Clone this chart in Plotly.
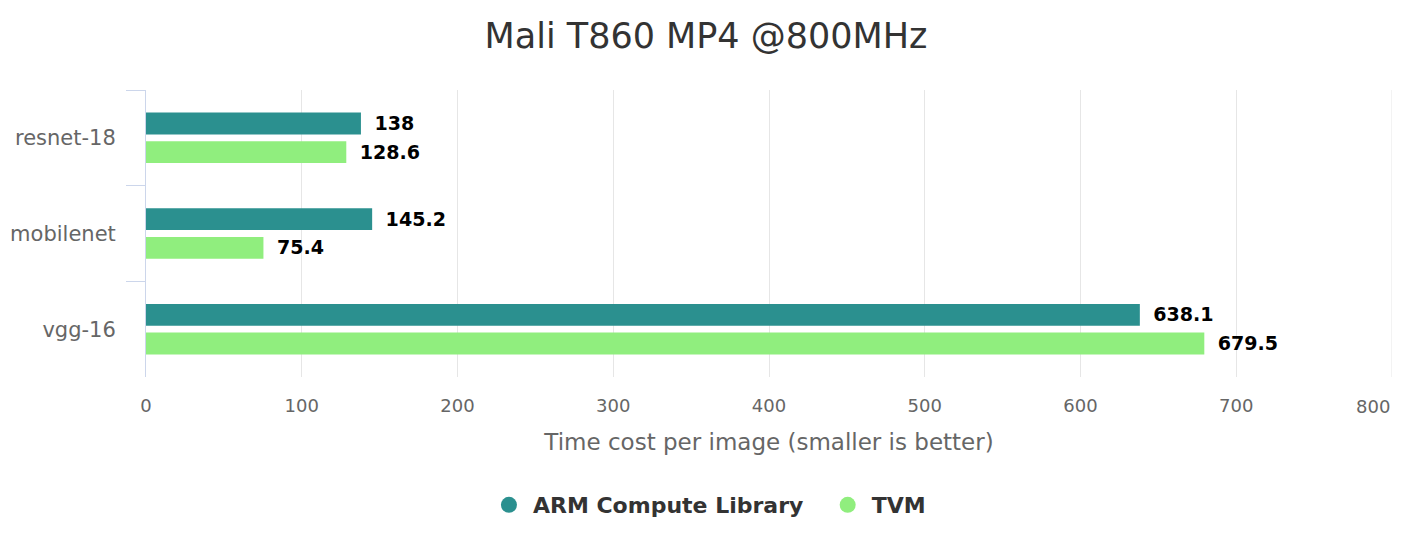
import plotly.graph_objects as go

categories = ["resnet-18", "mobilenet", "vgg-16"]
arm_values = [138, 145.2, 638.1]
tvm_values = [128.6, 75.4, 679.5]
series_names = ["ARM Compute Library", "TVM"]
colors = ["#2b908f", "#90ee7e"]
x_ticks = [0, 100, 200, 300, 400, 500, 600, 700, 800]

FONT = "DejaVu Sans"
TICK_FONT = dict(family=FONT, size=18, color="#666666")

fig = go.Figure()
for i, (name, vals, col) in enumerate(zip(series_names, [arm_values, tvm_values], colors)):
    fig.add_trace(go.Bar(
        y=categories, x=vals, orientation="h", name=name,
        marker=dict(color=col, line=dict(width=0)),
        text=["\u00a0\u2009" + (f"{v:g}") for v in vals],
        textposition="outside", cliponaxis=False,
        textfont=dict(family=FONT, size=21, color="#000000", weight="bold"),
        showlegend=False, hoverinfo="x+name",
    ))
    # legend entry with circle symbol
    legend_label = name + ("\u00a0\u00a0" if i < len(series_names) - 1 else "")
    fig.add_trace(go.Scatter(
        x=[None], y=[None], mode="markers", name=legend_label,
        marker=dict(symbol="circle", size=24, color=col),
        showlegend=True,
    ))

# gridline at the far right edge of the value axis (plotly omits it at the range end)
fig.add_shape(type="line", xref="x", yref="paper", x0=x_ticks[-1], x1=x_ticks[-1],
              y0=0, y1=1, line=dict(color="#e6e6e6", width=1), layer="below")

# last tick label is right-justified to stay inside the chart
tick_text = [str(t) for t in x_ticks[:-1]] + [""]
fig.add_annotation(x=x_ticks[-1], xref="x", y=0, yref="paper", yshift=-29,
                   text=str(x_ticks[-1]), showarrow=False, xanchor="right",
                   yanchor="middle", font=TICK_FONT)

fig.update_layout(
    width=1412, height=558,
    margin=dict(l=146, r=20, t=90, b=181, autoexpand=False),
    paper_bgcolor="white", plot_bgcolor="white",
    barmode="group", bargap=0.40, bargroupgap=0.24,
    title=dict(text="Mali T860 MP4 @800MHz", x=0.5, xanchor="center",
               y=1 - 36 / 558, yanchor="middle",
               font=dict(family=FONT, size=35, color="#333333")),
    font=dict(family=FONT),
    xaxis=dict(
        range=[0, 800], tickvals=x_ticks, ticktext=tick_text,
        showgrid=True, gridcolor="#e6e6e6",
        gridwidth=1, zeroline=False, showline=False, automargin=False,
        ticks="outside", ticklen=12, tickcolor="rgba(0,0,0,0)",
        tickfont=TICK_FONT,
        title=dict(text="Time cost per image (smaller is better)", standoff=19,
                   font=dict(family=FONT, size=23, color="#666666")),
    ),
    yaxis=dict(
        autorange="reversed", type="category", tickson="boundaries",
        ticks="outside", ticklen=19, tickcolor="#ccd6eb", tickwidth=1,
        showline=True, linecolor="#ccd6eb", linewidth=1, automargin=False,
        showgrid=False, zeroline=False,
        tickfont=dict(family=FONT, size=21, color="#666666"),
        ticklabelstandoff=25,
    ),
    legend=dict(orientation="h", x=0.451, xanchor="center",
                y=(377 - 505) / 287, yanchor="middle",
                font=dict(family=FONT, size=22, color="#333333", weight="bold"),
                itemsizing="trace", itemwidth=38),
)

fig.write_html("out.html")
